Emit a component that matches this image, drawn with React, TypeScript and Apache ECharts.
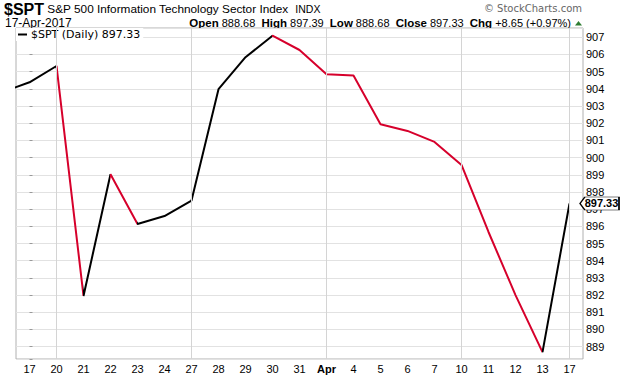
import React, { useEffect, useRef } from "react";
import * as echarts from "echarts";

// ---- data ----
const categories = ["17", "20", "21", "22", "23", "24", "27", "28", "29", "30", "31", "Apr", "4", "5", "6", "7", "10", "11", "12", "13", "17"];
const priorClose = 903.82; // Mar 16 close, just off the left edge
const closes = [904.38, 905.33, 891.95, 899.03, 896.14, 896.6, 897.5, 903.98, 905.84, 907.09, 906.26, 904.85, 904.77, 901.94, 901.55, 900.91, 899.57, 895.67, 892.0, 888.68, 897.33];
const weekStartIndex = [1, 6, 11, 16, 20];
const yTicks = [889, 890, 891, 892, 893, 894, 895, 896, 897, 898, 899, 900, 901, 902, 903, 904, 905, 906, 907];
const yMin = 888.28;
const yMax = 907.54;

const symbol = "$SPT";
const fullName = "S&P 500 Information Technology Sector Index";
const exchange = "INDX";
const dateText = "17-Apr-2017";
const openV = "888.68";
const highV = "897.39";
const lowV = "888.68";
const closeV = "897.33";
const chgV = "+8.65 (+0.97%)";

const UP = "#000000";
const DOWN = "#d6002b";
const FONT = "Liberation Sans, Arial, sans-serif";

export default function App() {
  const ref = useRef<HTMLDivElement>(null);
  useEffect(() => {
    document.body.style.margin = "0";
    if (!ref.current) return;
    const chart = echarts.init(ref.current, undefined, { renderer: "svg" });
    const points: number[][] = [[-1, priorClose], ...closes.map((v, i) => [i, v])];
    const pieces: any[] = [];
    for (let k = 1; k < points.length; k++) {
      const p: any = { lte: points[k][0], color: points[k][1] >= points[k - 1][1] ? UP : DOWN };
      if (k === 1) p.gte = -2; else p.gt = points[k - 1][0];
      pieces.push(p);
    }
    const last = points[points.length - 1];
    const seriesName = `${symbol} (Daily) ${closeV}`;
    chart.setOption({
      animation: false,
      textStyle: { fontFamily: FONT },
      grid: { left: 16, right: 37, top: 28, bottom: 17, show: true, borderColor: "#b0b0b0", borderWidth: 1 },
      xAxis: [
        {
          type: "category",
          data: categories,
          boundaryGap: true,
          axisLine: { show: false },
          axisTick: { show: false },
          splitLine: { show: false },
          axisLabel: {
            color: "#000",
            fontSize: 11,
            fontFamily: FONT,
            margin: 4,
            interval: 0,
            formatter: (v: string) => (v === "Apr" ? "{b|Apr}" : v),
            rich: { b: { fontWeight: "bold", fontSize: 11, color: "#000", fontFamily: FONT } },
          },
        },
        { type: "value", min: -0.5, max: categories.length - 0.5, show: false },
      ],
      yAxis: {
        type: "value",
        position: "right",
        min: yMin,
        max: yMax,
        splitNumber: 20,
        minInterval: 1,
        maxInterval: 1,
        axisLine: { show: false },
        axisTick: { show: true, length: 3, lineStyle: { color: "#999" } },
        axisLabel: {
          color: "#000",
          fontSize: 11,
          fontFamily: FONT,
          margin: 3,
          formatter: (v: number) => {
            const r = Math.round(v);
            return Math.abs(v - r) < 1e-6 && yTicks.includes(r) ? String(r) : "";
          },
        },
        splitLine: { lineStyle: { color: "#e2e2e2", width: 1 } },
      },
      visualMap: { type: "piecewise", show: false, dimension: 0, seriesIndex: 1, pieces },
      legend: {
        left: 16,
        top: 28,
        padding: [1, 3, 1, 2],
        backgroundColor: "#fff",
        icon: "rect",
        itemWidth: 9,
        itemHeight: 2,
        itemGap: 5,
        textStyle: { fontFamily: "DejaVu Sans", fontSize: 11, color: "#000", padding: [0, 0, 0, -1] },
        data: [{ name: seriesName, itemStyle: { color: "#000" } }],
      },
      series: [
        {
          type: "line",
          name: "weeks",
          xAxisIndex: 1,
          data: points,
          showSymbol: false,
          silent: true,
          lineStyle: { opacity: 0 },
          z: 1,
          markLine: {
            silent: true,
            symbol: ["none", "none"],
            label: { show: false },
            lineStyle: { color: "#d4d4d4", width: 1, type: "solid" },
            data: weekStartIndex.map((i) => ({ xAxis: i })),
          },
        },
        {
          type: "line",
          name: seriesName,
          xAxisIndex: 1,
          data: points,
          showSymbol: false,
          lineStyle: { width: 2 },
          z: 3,
          markPoint: {
            symbol: "path://M0,6 L5,0 L40,0 L40,12 L5,12 Z",
            symbolSize: [39, 13],
            symbolKeepAspect: false,
            symbolOffset: [30, 0],
            itemStyle: { color: "#fff", borderColor: "#000", borderWidth: 1 },
            label: {
              show: true,
              color: "#000",
              fontWeight: "bold",
              fontSize: 11,
              fontFamily: FONT,
              offset: [2, 0],
              formatter: () => closeV,
            },
            data: [{ coord: last, value: last[1] }],
          },
        },
      ],
      graphic: [
        {
          type: "text",
          x: 4,
          y: 1,
          style: {
            text: `{a|${symbol}} {b|${fullName}}  {c|${exchange}}`,
            rich: {
              a: { fontFamily: FONT, fontWeight: "bold", fontSize: 16, fill: "#000" },
              b: { fontFamily: FONT, fontSize: 11.8, fill: "#000" },
              c: { fontFamily: FONT, fontSize: 10.5, fill: "#000" },
            },
          },
        },
        {
          type: "text",
          x: 5,
          y: 17,
          style: { text: dateText, fontFamily: FONT, fontSize: 12, fill: "#000" },
        },
        {
          type: "text",
          x: 571,
          y: 23,
          style: {
            text: `{b|Open} ${openV}  {b|High} ${highV}  {b|Low} ${lowV}  {b|Close} ${closeV}  {b|Chg} ${chgV}`,
            align: "right",
            verticalAlign: "middle",
            fontFamily: FONT,
            fontSize: 11,
            fill: "#000",
            rich: { b: { fontFamily: FONT, fontWeight: "bold", fontSize: 11.5, fill: "#000" } },
          },
        },
        {
          type: "polygon",
          shape: { points: [[575, 25.5], [578.5, 21], [582, 25.5]] },
          style: { fill: "#2e7d32" },
        },
        {
          type: "text",
          x: 582,
          y: 8,
          style: { text: "© StockCharts.com", align: "right", verticalAlign: "middle", fontFamily: "DejaVu Sans", fontSize: 10, fill: "#666" },
        },
      ],
    });
    return () => chart.dispose();
  }, []);
  return <div ref={ref} style={{ width: 620, height: 376 }} />;
}
